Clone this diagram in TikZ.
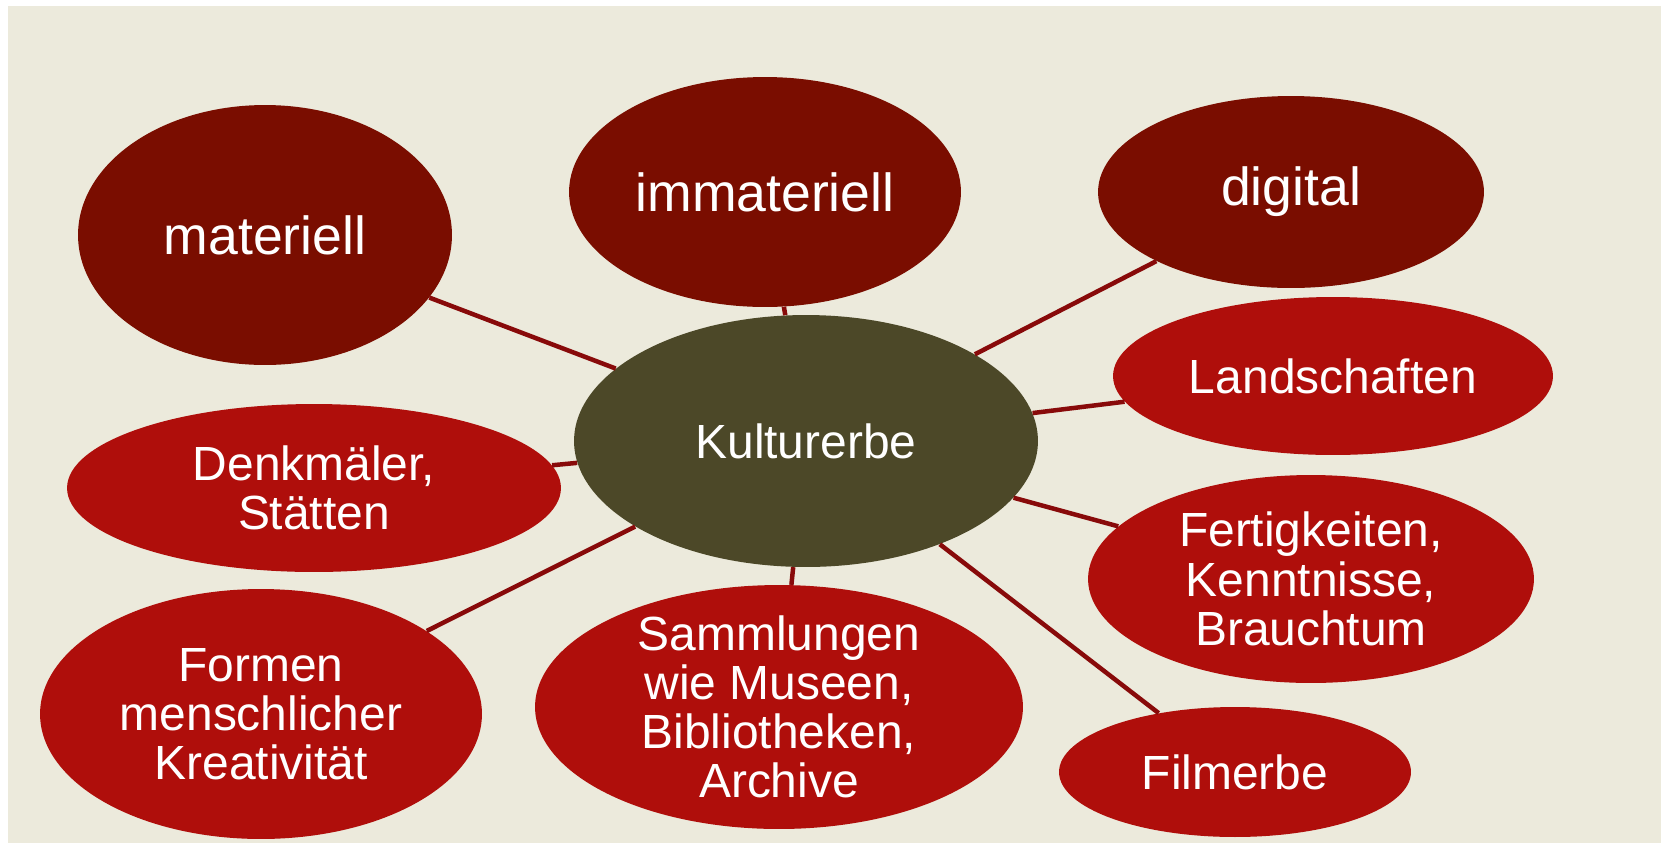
\documentclass[tikz,border=0pt]{standalone}
\usepackage{fontspec}
\setmainfont{Liberation Sans}
\usetikzlibrary{shapes,positioning}
\definecolor{kebg}{RGB}{236,234,220}
\definecolor{kedark}{RGB}{122,13,0}
\definecolor{kered}{RGB}{175,14,11}
\definecolor{keolive}{RGB}{76,72,40}
\definecolor{keline}{RGB}{136,10,10}
\tikzstyle{blob} = [ellipse, inner xsep=0pt, inner ysep=-4mm, text=white, align=center, font=\fontsize{27.3}{28}\selectfont]
\tikzstyle{kind} = [blob, fill=kedark, font=\fontsize{30.5}{32}\selectfont]
\tikzstyle{field} = [blob, fill=kered]
\tikzstyle{hub} = [blob, fill=keolive]
\tikzstyle{link} = [line width=0.9mm, color=keline]

\begin{document}
\begin{tikzpicture}[x=0.02cm, y=-0.02cm]
% canvas
\useasboundingbox (0,0) rectangle (1661,843);
\fill[white] (0,0) rectangle (1661,843);
\fill[kebg] (8,6) rectangle (1661,843);

% centre
\node (kult) [hub, minimum width=9.28cm, minimum height=5.04cm] at (806,441) {Kulturerbe};

% kinds of heritage
\node (mat) [kind, minimum width=7.48cm, minimum height=5.2cm] at (265,235) {materiell};
\node (immat) [kind, minimum width=7.84cm, minimum height=4.6cm] at (765,192) {immateriell};
\node (dig) [kind, minimum width=7.72cm, minimum height=3.84cm] at (1291,192) {digital};

% fields
\node (land) [field, minimum width=8.8cm, minimum height=3.16cm] at (1333,376) {Landschaften};
\node (denk) [field, minimum width=9.88cm, minimum height=3.36cm] at (314,488) {Denkmäler,\\Stätten};
\node (fert) [field, minimum width=8.92cm, minimum height=4.16cm] at (1311,579) {Fertigkeiten,\\Kenntnisse,\\Brauchtum};
\node (form) [field, minimum width=8.84cm, minimum height=5.0cm] at (261,714) {Formen\\menschlicher\\Kreativität};
\node (samm) [field, minimum width=9.76cm, minimum height=4.88cm] at (779,707) {Sammlungen\\wie Museen,\\Bibliotheken,\\Archive};
\node (film) [field, minimum width=7.04cm, minimum height=2.6cm] at (1235,772) {Filmerbe};

% spokes
\foreach \n in {mat,immat,dig,land,denk,fert,form,samm,film}
  \draw[link] (kult) -- (\n);
\end{tikzpicture}
\end{document}
